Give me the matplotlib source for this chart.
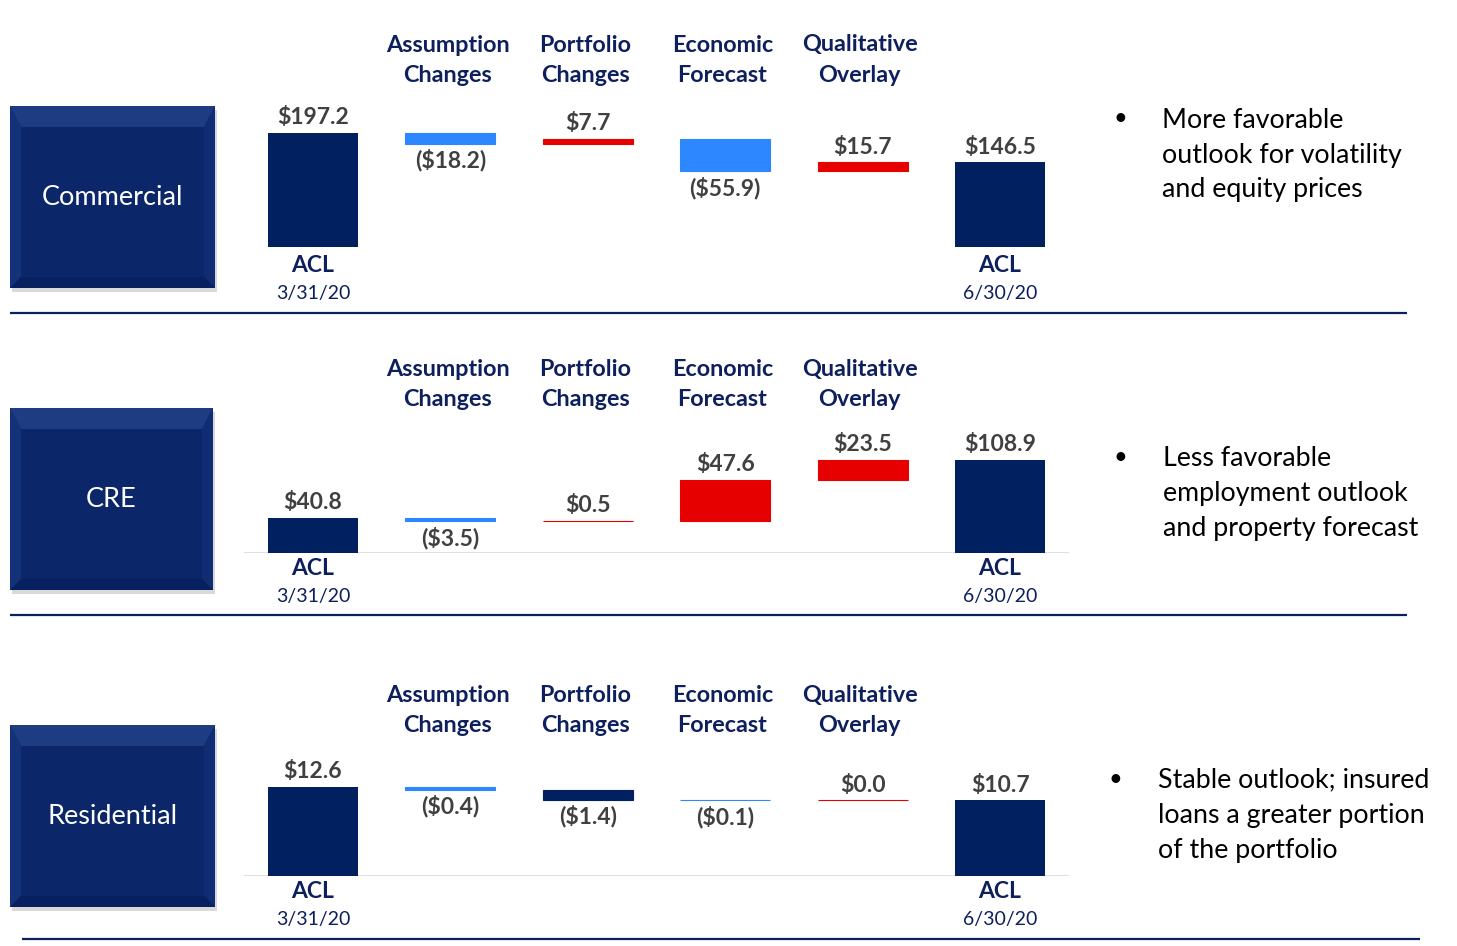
"""
ACL waterfall by portfolio: 3/31/20 -> 6/30/20, three stacked panels.
Saves out.png
"""

import matplotlib
matplotlib.use("Agg")
import matplotlib.pyplot as plt
import matplotlib.transforms as mtransforms
from matplotlib.patches import Polygon, Rectangle

# ── data ────────────────────────────────────────────────────────────────────
STEPS = ["Assumption\nChanges", "Portfolio\nChanges",
         "Economic\nForecast", "Qualitative\nOverlay"]
DATES = ["3/31/20", "6/30/20"]

COMMERCIAL_START   = 197.2
COMMERCIAL_CHANGES = [-18.2, 7.7, -55.9, 15.7]
COMMERCIAL_END     = 146.5
COMMERCIAL_NOTE    = ["More favorable", "outlook for volatility", "and equity prices"]

CRE_START   = 40.8
CRE_CHANGES = [-3.5, 0.5, 47.6, 23.5]
CRE_END     = 108.9
CRE_NOTE    = ["Less favorable", "employment outlook", "and property forecast"]

RES_START   = 12.6
RES_CHANGES = [-0.4, -1.4, -0.1, 0.0]
RES_END     = 10.7
RES_NOTE    = ["Stable outlook; insured", "loans a greater portion", "of the portfolio"]
# ────────────────────────────────────────────────────────────────────────────

# ── style ───────────────────────────────────────────────────────────────────
W, H      = 1457, 946
NAVY      = "#002060"
HEAD      = "#0d1f5c"
BLUE      = "#2d88ff"
RED       = "#e60000"
LABEL     = "#404040"
FONT      = "Lato"
AX_LEFT   = 244.3      # pixel x of x=-0.5
AX_RIGHT  = 1068.7     # pixel x of x=5.5
AX_HEIGHT = 170        # pixels above the baseline
# ────────────────────────────────────────────────────────────────────────────

PANELS = [
    dict(name="Commercial", start=COMMERCIAL_START, changes=COMMERCIAL_CHANGES,
         end=COMMERCIAL_END, note=COMMERCIAL_NOTE,
         base=247, px_per_unit=114 / 197.2, head_y=(45, 75), acl_y=(265, 293),
         box=(10, 106, 215, 288), note_y=(120, 155, 190), bullet_x=1120,
         note_x=1162, sep=(10, 1407, 313), baseline=False, colors=None),
    dict(name="CRE", start=CRE_START, changes=CRE_CHANGES,
         end=CRE_END, note=CRE_NOTE,
         base=553, px_per_unit=35 / 40.8, head_y=(369, 399), acl_y=(568, 596),
         box=(10, 408, 213, 590), note_y=(458, 493, 528), bullet_x=1120,
         note_x=1163, sep=(10, 1407, 615), baseline=True, colors=None),
    dict(name="Residential", start=RES_START, changes=RES_CHANGES,
         end=RES_END, note=RES_NOTE,
         base=876, px_per_unit=89 / 12.6, head_y=(695, 725), acl_y=(891, 919),
         box=(10, 725, 215, 907), note_y=(780, 815, 850), bullet_x=1115,
         note_x=1158, sep=(22, 1420, 939), baseline=True,
         colors=[BLUE, NAVY, BLUE, RED]),
]


def fmt(v):
    return f"(${abs(v):.1f})" if v < 0 else f"${v:.1f}"


def draw_box(bg, x0, y0, x1, y1, label):
    b = 11
    bg.add_patch(Rectangle((x0 + 2, y0 + 4), x1 - x0, y1 - y0,
                           color="#000000", alpha=0.15, lw=0, zorder=1))
    bg.add_patch(Rectangle((x0, y0), x1 - x0, y1 - y0, color="#0a2468", lw=0, zorder=2))
    faces = [
        ([(x0, y0), (x1, y0), (x1 - b, y0 + b + 10), (x0 + b, y0 + b + 10)], "#1d3c82"),
        ([(x0, y0), (x0 + b, y0 + b + 10), (x0 + b, y1 - b), (x0, y1)], "#14327a"),
        ([(x1, y0), (x1 - b, y0 + b + 10), (x1 - b, y1 - b), (x1, y1)], "#102d73"),
        ([(x0, y1), (x0 + b, y1 - b), (x1 - b, y1 - b), (x1, y1)], "#08205f"),
    ]
    for pts, c in faces:
        bg.add_patch(Polygon(pts, closed=True, color=c, lw=0, zorder=3))
    bg.add_patch(Rectangle((x0 + b, y0 + b + 10), x1 - x0 - 2 * b, y1 - y0 - 2 * b - 10,
                           color="#0b2669", lw=0, zorder=4))
    bg.text((x0 + x1) / 2, (y0 + y1) / 2, label, color="white", fontsize=19.5,
            family=FONT, ha="center", va="center", zorder=5)


def draw_panel(fig, bg, p):
    bottom = 1 - p["base"] / H
    ax = fig.add_axes([AX_LEFT / W, bottom, (AX_RIGHT - AX_LEFT) / W, AX_HEIGHT / H])
    ax.set_xlim(-0.5, 5.5)
    ax.set_ylim(0, AX_HEIGHT / p["px_per_unit"])
    ax.axis("off")
    if p["baseline"]:
        ax.axhline(0, color="#d9d9d9", lw=1.2, zorder=1)

    width = 0.655
    # opening / closing ACL bars
    for x, v in [(0, p["start"]), (5, p["end"])]:
        ax.bar(x, v, width=width, color=NAVY, lw=0, zorder=3)
        ax.annotate(fmt(v), (x, v), xytext=(0, 11), textcoords="offset points",
                    ha="center", va="center", fontsize=16.5, fontweight="bold",
                    color=LABEL, family=FONT)

    level = p["start"]
    for i, d in enumerate(p["changes"]):
        x = i + 1
        if p["colors"] is not None:
            c = p["colors"][i]
        else:
            c = RED if d >= 0 else BLUE
        ax.bar(x, d, bottom=level, width=width, color=c, edgecolor=c,
               lw=0.8, zorder=3)
        if d >= 0:
            ax.annotate(fmt(d), (x, level + d), xytext=(0, 11),
                        textcoords="offset points", ha="center", va="center",
                        fontsize=16.5, fontweight="bold", color=LABEL, family=FONT)
        else:
            ax.annotate(fmt(d), (x, level + d), xytext=(0, -12),
                        textcoords="offset points", ha="center", va="center",
                        fontsize=16.5, fontweight="bold", color=LABEL, family=FONT)
        level += d

    # headers and ACL captions: x in data, y in pixels
    tr = mtransforms.blended_transform_factory(ax.transData, bg.transData)
    for i, s in enumerate(STEPS):
        l1, l2 = s.split("\n")
        fig.text(i + 0.98, p["head_y"][0], l1, transform=tr, ha="center", va="center",
                 fontsize=16.8, fontweight="bold", color=HEAD, family=FONT)
        fig.text(i + 0.98, p["head_y"][1], l2, transform=tr, ha="center", va="center",
                 fontsize=16.8, fontweight="bold", color=HEAD, family=FONT)
    for x, d in [(0, DATES[0]), (5, DATES[1])]:
        fig.text(x, p["acl_y"][0], "ACL", transform=tr, ha="center", va="center",
                 fontsize=16.5, fontweight="bold", color=HEAD, family=FONT)
        fig.text(x, p["acl_y"][1], d, transform=tr, ha="center", va="center",
                 fontsize=14, color=HEAD, family=FONT)

    draw_box(bg, *p["box"], p["name"])

    bg.text(p["bullet_x"], p["note_y"][0] - 1, "•", fontsize=17, ha="center",
            va="center", color="black", family=FONT)
    for y, line in zip(p["note_y"], p["note"]):
        bg.text(p["note_x"], y, line, fontsize=19.3, ha="left", va="center",
                color="black", family=FONT)

    x0, x1, y = p["sep"]
    bg.plot([x0, x1], [y, y], color=HEAD, lw=1.6, solid_capstyle="butt")


def main():
    fig = plt.figure(figsize=(W / 100, H / 100), dpi=100)
    bg = fig.add_axes([0, 0, 1, 1], zorder=0)
    bg.set_xlim(0, W)
    bg.set_ylim(H, 0)
    bg.axis("off")
    for p in PANELS:
        draw_panel(fig, bg, p)
    fig.savefig("out.png", dpi=100)
    plt.close(fig)


if __name__ == "__main__":
    main()
